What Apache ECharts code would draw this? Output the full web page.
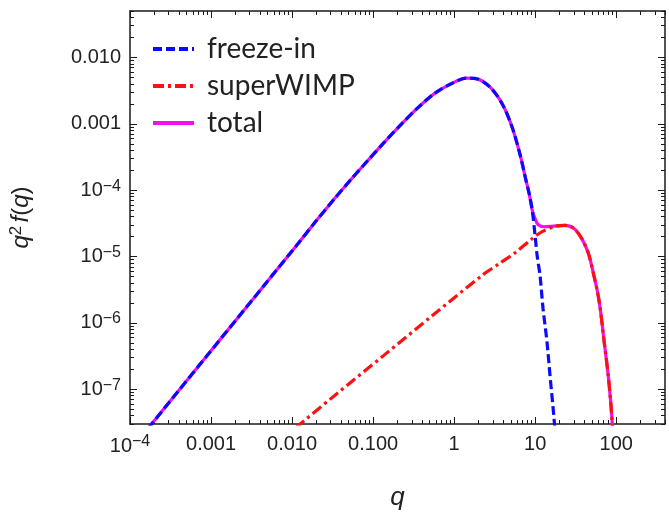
<!DOCTYPE html>
<html>
<head>
<meta charset="utf-8">
<script src="https://cdn.jsdelivr.net/npm/echarts@6/dist/echarts.min.js"></script>
<style>
  html, body { margin: 0; padding: 0; background: #fff; }
  #main { width: 669px; height: 516px; }
</style>
</head>
<body>
<div id="main"></div>
<script>
// q values and q^2 f(q)
var freezeQ = [1.66e-4, 3.84e-4, 8.9e-4, 2.06e-3, 4.78e-3, 0.0111, 0.0194, 0.0339, 0.0546, 0.0855, 0.138, 0.222, 0.347, 0.559, 0.899, 1.41, 1.86, 2.76, 3.97, 5.25, 6.57, 7.56, 8.46, 9.20, 10.0, 10.6, 11.5, 12.5, 14.0, 15.2, 16.6, 17.5];
var freezeY = [2.55e-8, 9.0e-8, 3.19e-7, 1.13e-6, 4.0e-6, 1.42e-5, 3.33e-5, 7.6e-5, 1.50e-4, 2.77e-4, 5.3e-4, 9.8e-4, 1.69e-3, 2.8e-3, 3.95e-3, 4.88e-3, 4.80e-3, 3.59e-3, 1.94e-3, 8.55e-4, 3.28e-4, 1.55e-4, 8.67e-5, 5.01e-5, 2.0e-5, 1.01e-5, 5.08e-6, 1.65e-6, 5.15e-7, 1.67e-7, 5.4e-8, 2.55e-8];

var wimpQ = [0.0111, 0.0339, 0.138, 0.559, 2.26, 3.65, 5.71, 9.20, 12.2, 17.5, 23.2, 29.8, 37.3, 45.4, 52.2, 58.4, 63.5, 71.1, 79.5, 86.5, 90.2];
var wimpY = [2.64e-8, 8.15e-8, 3.30e-7, 1.34e-6, 5.3e-6, 7.9e-6, 1.15e-5, 1.86e-5, 2.37e-5, 2.85e-5, 2.95e-5, 2.67e-5, 1.89e-5, 1.11e-5, 5.64e-6, 3.05e-6, 1.65e-6, 5.15e-7, 1.67e-7, 5.4e-8, 2.55e-8];

var totalQ = [1.66e-4, 3.84e-4, 8.9e-4, 2.06e-3, 4.78e-3, 0.0111, 0.0194, 0.0339, 0.0546, 0.0855, 0.138, 0.222, 0.347, 0.559, 0.899, 1.41, 1.86, 2.76, 3.97, 5.25, 6.57, 7.56, 8.46, 9.20, 10.0, 10.9, 12.9, 16.1, 23.2, 29.8, 37.3, 45.4, 52.2, 58.4, 63.5, 71.1, 79.5, 86.5, 90.2];
var totalY = [2.55e-8, 9.0e-8, 3.19e-7, 1.13e-6, 4.0e-6, 1.42e-5, 3.33e-5, 7.6e-5, 1.50e-4, 2.77e-4, 5.3e-4, 9.8e-4, 1.69e-3, 2.8e-3, 3.95e-3, 4.88e-3, 4.80e-3, 3.59e-3, 1.94e-3, 8.55e-4, 3.28e-4, 1.55e-4, 8.67e-5, 5.01e-5, 3.69e-5, 3.01e-5, 2.81e-5, 2.85e-5, 2.95e-5, 2.67e-5, 1.89e-5, 1.11e-5, 5.64e-6, 3.05e-6, 1.65e-6, 5.15e-7, 1.67e-7, 5.4e-8, 2.55e-8];

// ticks
var xMajor = [1e-4, 1e-3, 1e-2, 1e-1, 1, 10, 100];
var xTickLabels = ['{b|10}{s|\u22124}', '0.001', '0.010', '0.100', '1', '10', '100'];
var yMajor = [1e-7, 1e-6, 1e-5, 1e-4, 1e-3, 1e-2];
var yTickLabels = ['{b|10}{s|\u22127}', '{b|10}{s|\u22126}', '{b|10}{s|\u22125}', '{b|10}{s|\u22124}', '0.001', '0.010'];

var xMin = 1e-4, xMax = 400;
var yMin = 3e-8, yMax = 0.05;

function minorTicks(lo, hi) {
  var out = [];
  for (var e = -9; e <= 3; e++) {
    for (var m = 2; m <= 9; m++) {
      var v = m * Math.pow(10, e);
      if (v >= lo * 0.999 && v <= hi * 1.001) out.push(v);
    }
  }
  return out;
}
var xMinor = minorTicks(xMin, xMax);
var yMinor = minorTicks(yMin, yMax);

function pairs(a, b) { return a.map(function (v, i) { return [v, b[i]]; }); }

var frameColor = '#1a1a1a';
var richLabel = {
  b: { fontSize: 20, fontFamily: 'Liberation Sans', color: '#222' },
  s: { fontSize: 16, fontFamily: 'Liberation Sans', color: '#222', verticalAlign: 'top', padding: [0, 0, 8, 0] }
};

function makeX(pos, major, withLabels) {
  return {
    type: 'log', logBase: 10, min: xMin, max: xMax, position: pos,
    axisLine: { show: major, lineStyle: { color: frameColor, width: 1.5 } },
    axisTick: { show: true, inside: true, length: major ? 7 : 4, lineStyle: { color: frameColor, width: 1 },
                customValues: major ? xMajor : xMinor },
    axisLabel: withLabels ? {
      show: true, margin: 10, customValues: xMajor,
      fontSize: 20, fontFamily: 'Liberation Sans', color: '#222',
      formatter: function (v) { return xTickLabels[Math.round(Math.log10(v)) + 4]; },
      rich: richLabel
    } : { show: false },
    splitLine: { show: false },
    minorTick: { show: false }, minorSplitLine: { show: false }
  };
}
function makeY(pos, major, withLabels) {
  return {
    type: 'log', logBase: 10, min: yMin, max: yMax, position: pos,
    axisLine: { show: major, lineStyle: { color: frameColor, width: 1.5 } },
    axisTick: { show: true, inside: true, length: major ? 7 : 4, lineStyle: { color: frameColor, width: 1 },
                customValues: major ? yMajor : yMinor },
    axisLabel: withLabels ? {
      show: true, margin: 9, customValues: yMajor,
      fontSize: 20, fontFamily: 'Liberation Sans', color: '#222',
      formatter: function (v) { return yTickLabels[Math.round(Math.log10(v)) + 7]; },
      rich: richLabel
    } : { show: false },
    splitLine: { show: false },
    minorTick: { show: false }, minorSplitLine: { show: false }
  };
}

var xBottom = makeX('bottom', true, true);
xBottom.name = 'q';
xBottom.nameLocation = 'middle';
xBottom.nameGap = 61;
xBottom.nameTextStyle = { fontFamily: 'Liberation Sans', fontStyle: 'italic', fontSize: 26, color: '#222' };

var yLeft = makeY('left', true, true);
yLeft.name = '{i|q}{s|2} {i|f}{n|(}{i|q}{n|)}';
yLeft.nameLocation = 'middle';
yLeft.nameGap = 95;
yLeft.nameTextStyle = {
  color: '#222',
  rich: {
    i: { fontFamily: 'Liberation Sans', fontStyle: 'italic', fontSize: 24, color: '#222' },
    n: { fontFamily: 'Liberation Sans', fontSize: 24, color: '#222' },
    s: { fontFamily: 'Liberation Sans', fontSize: 17, color: '#222', verticalAlign: 'top', padding: [0, 0, 10, 0] }
  }
};

var myChart = echarts.init(document.getElementById('main'), null, { renderer: 'canvas' });
var option = {
  animation: false,
  backgroundColor: '#fff',
  grid: { left: 122, right: 4, top: 11, bottom: 85, containLabel: false },
  legend: {
    orient: 'vertical', left: 146, top: 30,
    itemWidth: 41, itemHeight: 12, itemGap: 9,
    data: ['freeze-in', 'superWIMP', 'total'],
    itemStyle: { opacity: 0, borderWidth: 0 },
    lineStyle: { width: 4 },
    textStyle: { fontFamily: 'Lato', fontSize: 28, color: '#222', padding: [0, 0, 0, 8], lineHeight: 28 }
  },
  xAxis: [xBottom, makeX('bottom', false, false), makeX('top', true, false), makeX('top', false, false)],
  yAxis: [yLeft, makeY('left', false, false), makeY('right', true, false), makeY('right', false, false)],
  series: [
    {
      name: 'total', type: 'line', data: pairs(totalQ, totalY),
      showSymbol: false, symbol: 'none', smooth: 0.3,
      color: '#ee11ee',
      lineStyle: { color: '#ee11ee', width: 3.2, type: 'solid' }
    },
    {
      name: 'freeze-in', type: 'line', data: pairs(freezeQ, freezeY),
      showSymbol: false, symbol: 'none', smooth: 0.3,
      color: '#0a0aff',
      lineStyle: { color: '#0a0aff', width: 3.2, type: [9, 4] }
    },
    {
      name: 'superWIMP', type: 'line', data: pairs(wimpQ, wimpY),
      showSymbol: false, symbol: 'none', smooth: 0.3,
      color: '#ff1010',
      lineStyle: { color: '#ff1010', width: 3.2, type: [11, 4, 3, 4] }
    }
  ]
};
myChart.setOption(option);
</script>
</body>
</html>
